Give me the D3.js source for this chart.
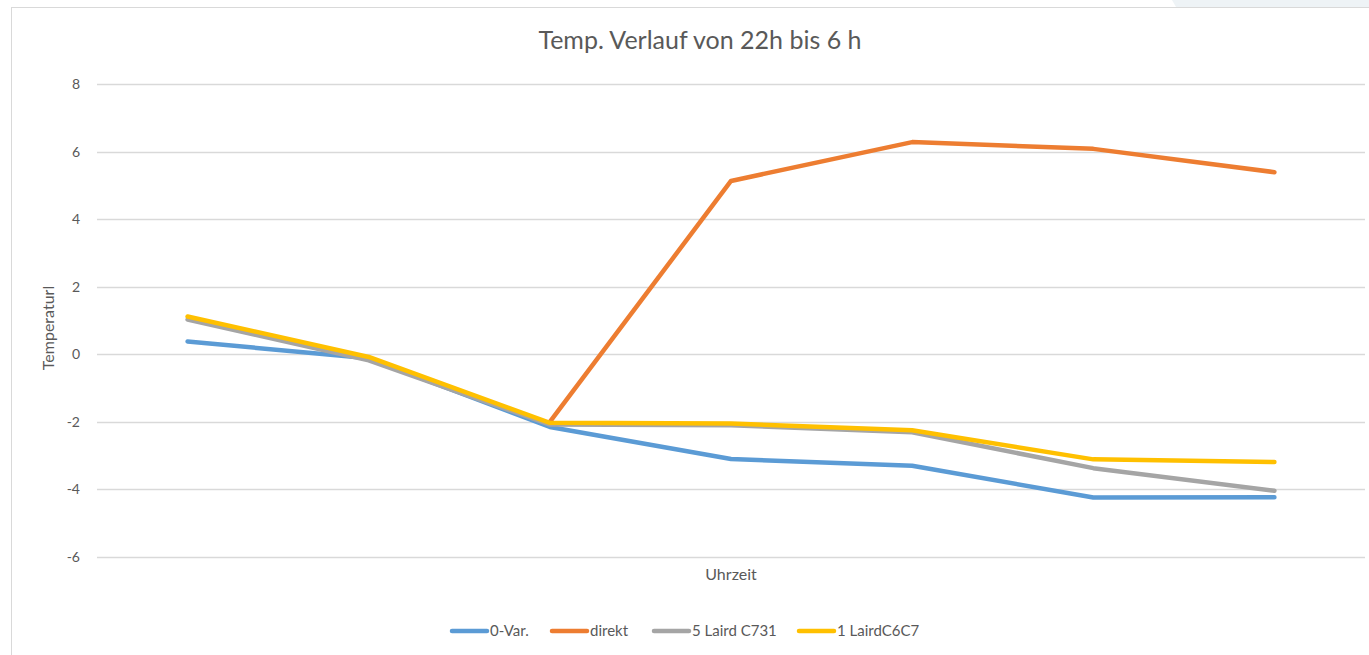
<!DOCTYPE html>
<html lang="en">
    <head>
        <meta charset="utf-8"/>
        <script src="https://d3js.org/d3.v7.min.js"></script>
        <style>
            body { margin: 0; background: #fff; }
            text { font-family: Lato, "Open Sans", sans-serif; fill: #595959; }
        </style>
    </head>
    <body>
        <div id="chart"></div>
    </body>
    <script>
        var categories = ["1", "2", "3", "4", "5", "6", "7"];
        var yTicks = [-6, -4, -2, 0, 2, 4, 6, 8];
        var seriesNames = ["0-Var.", "direkt", "5 Laird C731", "1 LairdC6C7"];
        var nullVar = [0.38, -0.12, -2.15, -3.1, -3.3, -4.24, -4.23];
        var direkt = [null, null, -2.0, 5.13, 6.28, 6.08, 5.39];
        var laird5 = [1.03, -0.18, -2.08, -2.1, -2.31, -3.37, -4.04];
        var laird1 = [1.12, -0.08, -2.03, -2.05, -2.25, -3.11, -3.19];
        var colors = ["#5B9BD5", "#ED7D31", "#A5A5A5", "#FFC000"];

        var series = [nullVar, direkt, laird5, laird1];

        var W = 1369, H = 655;
        var margin = {top: 84, right: 4, bottom: 98, left: 97};
        var width = W - margin.left - margin.right;
        var height = H - margin.top - margin.bottom;

        var svg = d3.select("#chart")
            .append("svg")
                .attr("width", W)
                .attr("height", H)

        // frame + background bits
        svg.append("path")
            .attr("d", "M1172,0 L1369,0 L1369,7 L1176,7 Z")
            .attr("fill", "#eef3f6")
        svg.append("rect")
            .attr("x", 11.5).attr("y", 7.5)
            .attr("width", W).attr("height", H)
            .attr("fill", "#fff")
            .attr("stroke", "#d9d9d9")

        var g = svg.append("g")
            .attr("transform", "translate(" + margin.left + "," + margin.top + ")")

        var x = d3.scaleBand()
            .domain(categories)
            .range([0, width])

        var y = d3.scaleLinear()
            .domain([-6, 8])
            .range([height, 0])

        // grid
        g.append("g")
            .selectAll("line")
            .data(yTicks)
            .enter()
            .append("line")
            .attr("x1", 0)
            .attr("x2", width)
            .attr("y1", function (d) { return Math.round(y(d)) + 0.5; })
            .attr("y2", function (d) { return Math.round(y(d)) + 0.5; })
            .attr("stroke", "#d9d9d9")
            .attr("stroke-width", 1.5)

        var yAxis = g.append("g")
            .call(d3.axisLeft(y).tickValues(yTicks).tickSize(0).tickPadding(17)
                .tickFormat(function (d) { return String(d); }))
        yAxis.select(".domain").remove()
        yAxis.selectAll("text")
            .style("font-size", "14px")
            .attr("fill", "#595959")

        var line = d3.line()
            .defined(function (d) { return d !== null; })
            .x(function (d, i) { return x(categories[i]) + x.bandwidth() / 2; })
            .y(function (d) { return y(d); })

        g.append("g")
            .selectAll("path")
            .data(series)
            .enter()
            .append("path")
            .attr("d", function (d) { return line(d); })
            .attr("fill", "none")
            .attr("stroke", function (d, i) { return colors[i]; })
            .attr("stroke-width", 4.5)
            .attr("stroke-linejoin", "round")
            .attr("stroke-linecap", "round")

        // titles
        svg.append("text")
            .attr("x", 700)
            .attr("y", 49)
            .attr("text-anchor", "middle")
            .style("font-size", "25px")
            .text("Temp. Verlauf von 22h bis 6 h")

        svg.append("text")
            .attr("transform", "translate(54,328) rotate(-90)")
            .attr("text-anchor", "middle")
            .style("font-size", "16px")
            .text("Temperaturl")

        svg.append("text")
            .attr("x", margin.left + width / 2)
            .attr("y", 580)
            .attr("text-anchor", "middle")
            .style("font-size", "16px")
            .text("Uhrzeit")

        // legend
        var legendX = [450, 550, 652, 797];
        var legend = svg.append("g")
            .selectAll("g")
            .data(seriesNames)
            .enter()
            .append("g")
            .attr("transform", function (d, i) { return "translate(" + legendX[i] + ",631)"; })
        legend.append("line")
            .attr("x1", 2).attr("x2", 37)
            .attr("y1", 0).attr("y2", 0)
            .attr("stroke", function (d, i) { return colors[i]; })
            .attr("stroke-width", 4.5)
            .attr("stroke-linecap", "round")
        legend.append("text")
            .attr("x", 40)
            .attr("y", 5)
            .style("font-size", "15px")
            .text(function (d) { return d; })
    </script>
</html>
